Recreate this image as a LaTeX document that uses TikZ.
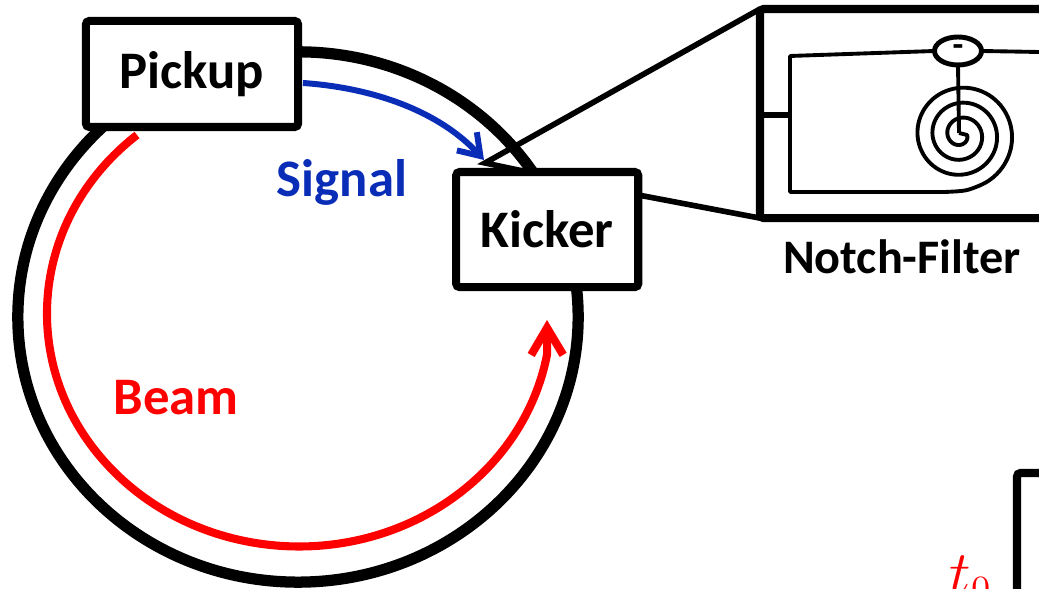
\documentclass[tikz,border=0pt]{standalone}
\usepackage{fontspec}
\setmainfont{Carlito}
\usepackage{xcolor}
\usetikzlibrary{shapes.geometric, arrows.meta, positioning}
\definecolor{signalblue}{HTML}{0A2DB8}

\begin{document}
\begin{tikzpicture}[
  x=0.01cm, y=-0.01cm,
  box/.style={rectangle, draw=black, fill=white, line width=2.3pt, rounded corners=1pt, text centered, inner sep=0pt, outer sep=0pt, font=\fontsize{15}{15}\selectfont\bfseries},
  ringline/.style={ellipse, draw=black, line width=3.2pt, inner sep=0pt, outer sep=0pt, minimum width=5.6cm, minimum height=5.3cm},
  wire/.style={line width=1.1pt, line join=round},
  zoomline/.style={line width=1.6pt, line join=miter},
  beamarrow/.style={draw=red, line width=2.3pt, -{Straight Barb[length=0.27cm, width=0.32cm, line width=2.3pt]}},
  signalarrow/.style={draw=signalblue, line width=1.7pt, -{Straight Barb[length=0.2cm, width=0.27cm, line width=1.7pt]}},
  tag/.style={font=\fontsize{15}{15}\selectfont\bfseries}
]
\useasboundingbox (0,0) rectangle (1039,589);
\clip (0,0) rectangle (1039,589);

% Ring
\node (ring) [ringline] at (298,317) {};

% Pickup and Kicker
\node (pickup) [box, minimum width=2.12cm, minimum height=1.06cm] at (192,74) {\raisebox{-0.03cm}{Pickup}};
\node (kicker) [box, minimum width=1.82cm, minimum height=1.15cm, below right=0.45cm and 1.58cm of pickup.south east] {Kicker};

% Notch filter
\node (filter) [box, minimum width=3.6cm, minimum height=2.09cm, anchor=north west] at (760,9) {};
\node (title) [tag, font=\fontsize{13.7}{14}\selectfont\bfseries] at (902,257) {Notch-Filter};
\node (sub) [ellipse, draw=black, line width=1.4pt, fill=white, inner sep=0pt, outer sep=0pt, minimum width=0.47cm, minimum height=0.28cm, font=\fontsize{10}{10}\selectfont\bfseries] at (958,51) {-};
\coordinate (spiral) at (959,133);
\coordinate (railtop) at (790,56);
\coordinate (railmid) at (790,115);
\coordinate (railbot) at (790,192);
\coordinate (spiralend) at (945,192);
\draw [wire] (sub.west) -- (railtop) -- (railbot) -- (spiralend);
\draw [wire] (sub.east) -- (1039,52);
\draw [wire] (sub.south) -- (spiral);
\draw [zoomline] (filter.west |- railmid) -- (railmid);
\draw [wire] (spiral) -- plot[smooth, samples=130, domain=0:1150] ({961+(6+\x/24)*cos(\x)},{135+(6+\x/24)*sin(\x)}) .. controls (966,191) .. (spiralend);

% Zoom lines
\coordinate (tip) at (485,163);
\draw [zoomline] (filter.north west) -- (tip) -- (523,171);
\draw [zoomline] (kicker.east |- 0,195) -- (filter.south west);

% Beam and signal
\coordinate (beamstart) at (137,135);
\coordinate (beamend) at (547,320);
\draw [beamarrow] (beamstart) arc[start angle=230, end angle=10, x radius=252, y radius=233] -- (beamend);
\node (beamlabel) [tag, text=red] at (176,398) {Beam};
\coordinate (signalstart) at (303,83);
\coordinate (signalend) at (484,160);
\draw [signalarrow] (signalstart) .. controls (375,88) and (440,112) .. (signalend);
\node (signallabel) [tag, text=signalblue] at (342,182) {Signal};

% Time axis
\node (axis) [rectangle, draw=black, line width=2.3pt, rounded corners=1pt, inner sep=0pt, outer sep=0pt, minimum width=2cm, minimum height=2cm, anchor=north west] at (1017,473) {};
\node (tzero) [text=red, font=\fontsize{16}{16}\selectfont] at (971,579) {$t_0$};

\end{tikzpicture}
\end{document}
